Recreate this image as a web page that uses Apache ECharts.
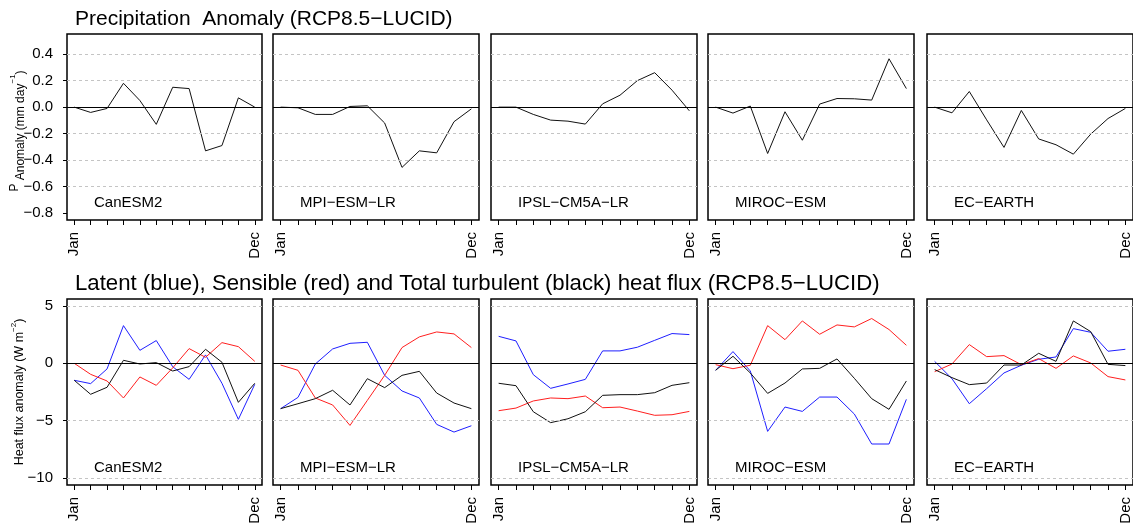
<!DOCTYPE html>
<html>
<head>
<meta charset="utf-8">
<script src="https://cdn.jsdelivr.net/npm/echarts@6/dist/echarts.min.js"></script>
<style>
  html, body { margin: 0; padding: 0; background: #fff; }
  #chart { width: 1133px; height: 527px; }
</style>
</head>
<body>
<div id="chart"></div>
<script>
// Monthly anomalies (RCP8.5 minus LUCID) for five climate models
const months = ['Jan', 'Feb', 'Mar', 'Apr', 'May', 'Jun', 'Jul', 'Aug', 'Sep', 'Oct', 'Nov', 'Dec'];
const models = ['CanESM2', 'MPI−ESM−LR', 'IPSL−CM5A−LR', 'MIROC−ESM', 'EC−EARTH'];

// Precipitation anomaly (mm/day)
const precipCanESM2 = [0.00, -0.04, -0.01, 0.18, 0.05, -0.13, 0.15, 0.14, -0.33, -0.29, 0.07, 0.00];
const precipMPI     = [0.00, -0.005, -0.055, -0.055, 0.005, 0.01, -0.12, -0.455, -0.33, -0.345, -0.11, -0.013];
const precipIPSL    = [0.00, 0.00, -0.055, -0.098, -0.106, -0.128, 0.025, 0.09, 0.20, 0.26, 0.128, -0.028];
const precipMIROC   = [0.00, -0.045, 0.008, -0.35, -0.035, -0.25, 0.023, 0.065, 0.063, 0.053, 0.365, 0.14];
const precipEC      = [0.00, -0.043, 0.118, -0.096, -0.304, -0.025, -0.24, -0.284, -0.355, -0.204, -0.086, -0.01];

// Latent heat flux anomaly (W/m2)
const latentCanESM2 = [-1.48, -1.77, -0.49, 3.28, 1.13, 1.98, -0.30, -1.40, 0.73, -1.74, -4.88, -1.83];
const latentMPI     = [-3.95, -2.97, -0.06, 1.25, 1.74, 1.83, -1.05, -2.41, -3.02, -5.32, -5.99, -5.44];
const latentIPSL    = [2.35, 1.95, -0.99, -2.18, -1.80, -1.40, 1.08, 1.08, 1.40, 2.00, 2.59, 2.50];
const latentMIROC   = [-0.61, 1.02, -0.67, -5.93, -3.81, -4.19, -2.94, -2.94, -4.42, -7.03, -7.03, -3.14];
const latentEC      = [0.17, -1.34, -3.52, -2.21, -0.84, -0.17, 0.35, 0.55, 3.02, 2.70, 1.05, 1.22];

// Sensible heat flux anomaly (W/m2)
const sensibleCanESM2 = [0.00, -0.96, -1.54, -3.02, -1.19, -1.92, -0.40, 1.28, 0.52, 1.80, 1.45, 0.17];
const sensibleMPI     = [-0.15, -0.61, -3.02, -3.63, -5.41, -3.23, -1.05, 1.37, 2.30, 2.73, 2.56, 1.37];
const sensibleIPSL    = [-4.13, -3.90, -3.28, -3.02, -3.08, -2.85, -3.87, -3.81, -4.16, -4.53, -4.48, -4.19];
const sensibleMIROC   = [-0.12, -0.47, -0.17, 3.28, 2.06, 3.69, 2.53, 3.34, 3.17, 3.90, 2.94, 1.57];
const sensibleEC      = [-0.73, -0.06, 1.63, 0.58, 0.67, -0.12, 0.41, -0.44, 0.64, 0.03, -1.16, -1.45];

// Total turbulent heat flux anomaly (W/m2)
const totalCanESM2 = [-1.48, -2.70, -2.09, 0.26, -0.06, 0.06, -0.67, -0.29, 1.22, 0.09, -3.40, -1.74];
const totalMPI     = [-3.95, -3.52, -3.08, -2.35, -3.63, -1.34, -2.12, -1.05, -0.70, -2.59, -3.46, -3.95];
const totalIPSL    = [-1.74, -1.95, -4.22, -5.17, -4.83, -4.22, -2.79, -2.73, -2.73, -2.56, -1.92, -1.69];
const totalMIROC   = [-0.61, 0.61, -0.84, -2.62, -1.72, -0.49, -0.44, 0.38, -1.31, -3.08, -4.01, -1.54];
const totalEC      = [-0.55, -1.25, -1.86, -1.72, -0.15, -0.15, 0.87, 0.17, 3.69, 2.76, -0.09, -0.20];

const precipByModel   = [precipCanESM2, precipMPI, precipIPSL, precipMIROC, precipEC];
const latentByModel   = [latentCanESM2, latentMPI, latentIPSL, latentMIROC, latentEC];
const sensibleByModel = [sensibleCanESM2, sensibleMPI, sensibleIPSL, sensibleMIROC, sensibleEC];
const totalByModel    = [totalCanESM2, totalMPI, totalIPSL, totalMIROC, totalEC];

// Axis ticks and reference lines
const precipTicks = [-0.8, -0.6, -0.4, -0.2, 0.0, 0.2, 0.4];
const precipGrid  = [-0.6, -0.4, -0.2, 0.2, 0.4];
const fluxTicks   = [-10, -5, 0, 5];
const fluxGrid    = [-10, -5, 5];
const precipLimits = [-0.8, 0.5];
const fluxLimits   = [-10, 5];

const FONT = '"Liberation Sans", Arial, Helvetica, sans-serif';
const cols = [[67, 195], [273, 206], [491, 206], [708, 206], [927, 206]];
const rows = [{ top: 34, height: 186 }, { top: 299, height: 186 }];

// padded range (4% on each side)
function padded(lo, hi) { const d = (hi - lo) * 0.04; return [lo - d, hi + d]; }
const xRange = padded(1, 12);
const minus = s => String(s).replace('-', '\u2212');

const grids = [], xAxes = [], yAxes = [], series = [], graphics = [];

rows.forEach((row, r) => {
  const limits = r === 0 ? precipLimits : fluxLimits;
  const yr = padded(limits[0], limits[1]);
  const ticks = r === 0 ? precipTicks : fluxTicks;
  const gridVals = r === 0 ? precipGrid : fluxGrid;
  cols.forEach((col, c) => {
    const gi = r * 5 + c;
    grids.push({
      left: col[0], top: row.top, width: col[1], height: row.height,
      show: true, borderColor: '#000', borderWidth: 1.5, backgroundColor: 'transparent'
    });
    xAxes.push({
      type: 'value', gridIndex: gi, min: xRange[0], max: xRange[1], position: 'bottom',
      axisLine: { show: false, onZero: false },
      axisTick: { show: true, inside: false, length: 5, customValues: months.map((m, i) => i + 1),
                  lineStyle: { color: '#000', width: 1 } },
      axisLabel: { show: true, customValues: [1, 12], rotate: 90, margin: 12,
                   formatter: v => months[Math.round(v) - 1],
                   fontSize: 15, color: '#000', fontFamily: FONT },
      splitLine: { show: false }
    });
    yAxes.push({
      type: 'value', gridIndex: gi, min: yr[0], max: yr[1], position: 'left',
      axisLine: { show: false, onZero: false },
      axisTick: { show: c === 0, inside: false, length: 4, customValues: ticks,
                  lineStyle: { color: '#000', width: 1 } },
      axisLabel: { show: c === 0, customValues: ticks, margin: 14,
                   formatter: v => minus(r === 0 ? v.toFixed(1) : String(Math.round(v))),
                   fontSize: 15, color: '#000', fontFamily: FONT },
      splitLine: { show: false }
    });

    // reference lines: dashed grid and solid zero line
    const refData = (r === 0 ? precipByModel[c] : totalByModel[c]).map((v, i) => [i + 1, v]);
    series.push({
      type: 'line', xAxisIndex: gi, yAxisIndex: gi, z: 1, silent: true,
      data: refData, showSymbol: false, lineStyle: { opacity: 0 },
      markLine: {
        silent: true, symbol: 'none', label: { show: false },
        data: gridVals.map(v => ({ yAxis: v, lineStyle: { color: '#c4c4c4', type: [3, 3], width: 1 } }))
          .concat([{ yAxis: 0, lineStyle: { color: '#000', type: 'solid', width: 1 } }])
      }
    });

    const lineSeries = (values, color) => ({
      type: 'line', xAxisIndex: gi, yAxisIndex: gi, z: 3,
      data: values.map((v, i) => [i + 1, v]),
      showSymbol: false, smooth: false, animation: false,
      lineStyle: { color: color, width: 1 }
    });
    if (r === 0) {
      series.push(lineSeries(precipByModel[c], '#111'));
    } else {
      series.push(lineSeries(latentByModel[c], '#1f1fff'));
      series.push(lineSeries(sensibleByModel[c], '#ff1f1f'));
      series.push(lineSeries(totalByModel[c], '#111'));
    }

    // model name inside panel
    graphics.push({
      type: 'text', left: col[0] + 27, top: row.top + row.height - 25, silent: true,
      style: { text: models[c], fontSize: 15, fontFamily: FONT, fill: '#000' }
    });
  });
});

// Row titles
graphics.push({
  type: 'text', left: 75, top: 9, silent: true,
  style: { text: 'Precipitation  Anomaly (RCP8.5\u2212LUCID)', fontSize: 21, fontFamily: FONT, fill: '#000' }
});
graphics.push({
  type: 'text', left: 75, top: 273, silent: true,
  style: { text: 'Latent (blue), Sensible (red) and Total turbulent (black) heat flux (RCP8.5\u2212LUCID)',
           fontSize: 22.2, fontFamily: FONT, fill: '#000' }
});

// Y-axis titles (rotated)
graphics.push({
  type: 'text', x: 18, y: 131, rotation: Math.PI / 2, silent: true,
  style: {
    text: '{p|P}{a| Anomaly (mm day}{s|\u22121}{a|)}',
    align: 'center', verticalAlign: 'middle', fontFamily: FONT, fill: '#000',
    rich: {
      p: { fontSize: 12, fontFamily: FONT, verticalAlign: 'top', lineHeight: 18 },
      a: { fontSize: 12, fontFamily: FONT, verticalAlign: 'bottom', lineHeight: 18 },
      s: { fontSize: 8, fontFamily: FONT, verticalAlign: 'top', lineHeight: 18 }
    }
  }
});
graphics.push({
  type: 'text', x: 18, y: 392, rotation: Math.PI / 2, silent: true,
  style: {
    text: '{a|Heat flux anomaly (W m}{s|\u22122}{a|)}',
    align: 'center', verticalAlign: 'middle', fontFamily: FONT, fill: '#000',
    rich: {
      a: { fontSize: 12.5, fontFamily: FONT, verticalAlign: 'bottom', lineHeight: 16 },
      s: { fontSize: 8, fontFamily: FONT, verticalAlign: 'top', lineHeight: 16 }
    }
  }
});

const chart = echarts.init(document.getElementById('chart'), null, { renderer: 'canvas' });
chart.setOption({
  animation: false,
  backgroundColor: '#fff',
  textStyle: { fontFamily: FONT },
  grid: grids,
  xAxis: xAxes,
  yAxis: yAxes,
  series: series,
  graphic: graphics
});
</script>
</body>
</html>
